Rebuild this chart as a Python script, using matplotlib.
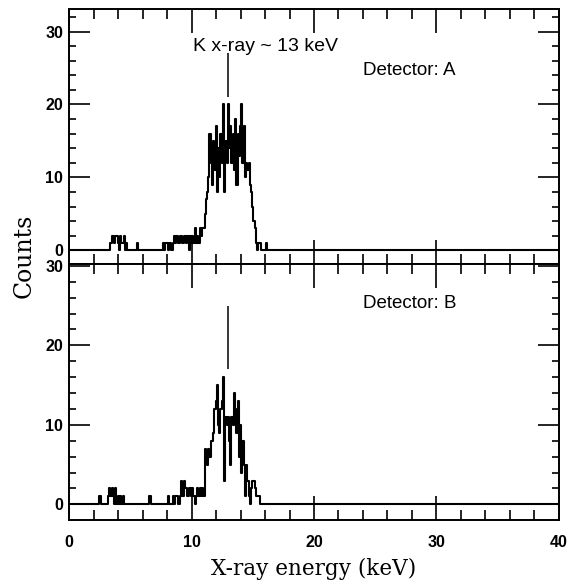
import numpy as np
import matplotlib
matplotlib.use("Agg")
import matplotlib.pyplot as plt
from matplotlib.ticker import MultipleLocator
from matplotlib import font_manager

# channel width of the spectra (keV)
BIN = 0.1

# Detector A: counts per channel, first channel centred at 3.4 keV
start_a = 3.4
counts_a = [
    1, 2, 2, 1, 2, 2, 1, 0, 2, 1, 1, 2, 0, 1, 0, 0,          # 3.4 - 4.9
    0, 0, 0, 0, 0, 0,                                        # 5.0 - 5.5
    1,                                                       # 5.6
    0, 0, 0, 0, 0, 0, 0, 0, 0, 0, 0, 0, 0, 0, 0, 0, 0, 0, 0, 0,  # 5.7 - 7.6
    1, 0, 1, 1, 0, 1, 1, 0, 1, 2, 1, 2,                      # 7.7 - 8.8
    1, 1, 2,                                                 # 8.9 - 9.1
    2, 1, 2, 2, 1, 2, 0, 2, 1, 2,                            # 9.2 - 10.1
    1, 3, 1, 2, 1, 3, 2, 3,                                  # 10.2 - 10.9
    3, 5, 7, 8, 10, 16, 12, 9, 15, 11, 17, 8, 14, 10, 16,    # 11.0 - 12.4
    12, 20, 8, 15, 12, 20, 14, 17, 12, 16, 11, 18, 9, 16, 13,  # 12.5 - 13.9
    17, 20, 12, 17, 10, 12, 11, 12, 9, 8, 6, 4, 3, 1, 0,     # 14.0 - 15.4
    1, 1, 0, 0, 0, 0, 1, 0,                                  # 15.5 - 16.2
]

# Detector B: counts per channel, first channel centred at 2.5 keV
start_b = 2.5
counts_b = [
    1,                                                       # 2.5
    0, 0, 0, 0, 0, 0,                                        # 2.6 - 3.1
    1, 2, 1, 2, 1, 0, 2, 0, 1, 0, 1, 0, 1, 0,                # 3.2 - 4.5
    0, 0, 0, 0, 0, 0, 0, 0, 0, 0, 0, 0, 0, 0, 0, 0, 0, 0, 0, 0,  # 4.6 - 6.5
    1,                                                       # 6.6
    0, 0, 0, 0, 0, 0, 0, 0, 0, 0, 0, 0, 0, 0,                # 6.7 - 8.0
    1, 0, 0, 0,                                              # 8.1 - 8.4
    1, 0, 1, 1, 0, 0,                                        # 8.5 - 9.0
    1, 3, 1, 3, 2, 2, 1, 2, 2, 1, 2,                         # 9.1 - 10.1
    1, 0, 1, 2, 1, 2, 1, 2, 1,                               # 10.2 - 11.0
    7, 6, 5, 7, 6, 8, 8, 9, 12, 13, 15, 10, 9, 12, 13,       # 11.1 - 12.5
    16, 3, 11, 10, 11, 8, 5, 11, 10, 14, 12, 9, 13, 6, 10,   # 12.6 - 14.0
    4, 8, 5, 1, 5, 3, 1, 0, 2, 3, 3, 2, 1, 1, 1, 0,          # 14.1 - 15.6
]

# K x-ray marker
k_energy = 13.0
k_span_a = (21, 27)
k_span_b = (17, 25)

x_ticks = [0, 10, 20, 30, 40]
y_ticks = [0, 10, 20, 30]


def pick_font(names, fallback):
    have = {f.name for f in font_manager.fontManager.ttflist}
    for n in names:
        if n in have:
            return n
    return fallback


SANS = pick_font(["Liberation Sans"], "DejaVu Sans")
SERIF = pick_font(["DejaVu Serif"], "serif")


def full_spectrum(start, counts):
    # put the measured channels on a 0-40 keV channel grid (zeros elsewhere)
    energy = np.round(np.arange(0, 40 + BIN / 2, BIN), 1)
    values = np.zeros_like(energy)
    i0 = int(round(start / BIN))
    values[i0:i0 + len(counts)] = counts
    return energy, values


def style_axis(ax, ylim, show_xlabels):
    ax.set_xlim(0, 40)
    ax.set_ylim(*ylim)
    ax.set_xticks(x_ticks)
    ax.set_yticks(y_ticks)
    ax.xaxis.set_minor_locator(MultipleLocator(2))
    ax.yaxis.set_minor_locator(MultipleLocator(2))
    ax.tick_params(axis="both", which="both", direction="in",
                   top=True, right=True, width=1.2, colors="black")
    ax.tick_params(axis="x", which="major", length=17, pad=11)
    ax.tick_params(axis="x", which="minor", length=7)
    ax.tick_params(axis="y", which="major", length=15, pad=4.5)
    ax.tick_params(axis="y", which="minor", length=5)
    for lab in ax.get_xticklabels() + ax.get_yticklabels():
        lab.set_fontfamily(SANS)
        lab.set_fontsize(11.5)
        lab.set_fontweight("bold")
    if not show_xlabels:
        ax.tick_params(axis="x", labelbottom=False)
    for sp in ax.spines.values():
        sp.set_linewidth(1.4)


fig = plt.figure(figsize=(5.7, 5.88), dpi=100)
ax_a = fig.add_axes([0.1216, 0.5515, 0.8586, 0.4332])
ax_b = fig.add_axes([0.1216, 0.1156, 0.8586, 0.4359])

e, c = full_spectrum(start_a, counts_a)
ax_a.plot(e, c, drawstyle="steps-mid", color="black", lw=1.5)
ax_a.vlines(k_energy, *k_span_a, color="black", lw=1.1)
ax_a.text(10.1, 28.0, "K x-ray ~ 13 keV", fontsize=14, family=SANS,
          ha="left", va="center")
ax_a.text(24.0, 24.6, "Detector: A", fontsize=13.5, family=SANS,
          ha="left", va="center")
style_axis(ax_a, (-1.84, 33.1), False)

e, c = full_spectrum(start_b, counts_b)
ax_b.plot(e, c, drawstyle="steps-mid", color="black", lw=1.5)
ax_b.vlines(k_energy, *k_span_b, color="black", lw=1.1)
ax_b.text(24.0, 25.3, "Detector: B", fontsize=13.5, family=SANS,
          ha="left", va="center")
style_axis(ax_b, (-1.97, 30.26), True)

fig.text(24 / 570, 1 - 256 / 588, "Counts", rotation=90, family=SERIF,
         fontsize=17, ha="center", va="center")
fig.text(314 / 570, 1 - 569 / 588, "X-ray energy (keV)", family=SERIF,
         fontsize=15.5, ha="center", va="center")

fig.savefig("out.png", dpi=100)
